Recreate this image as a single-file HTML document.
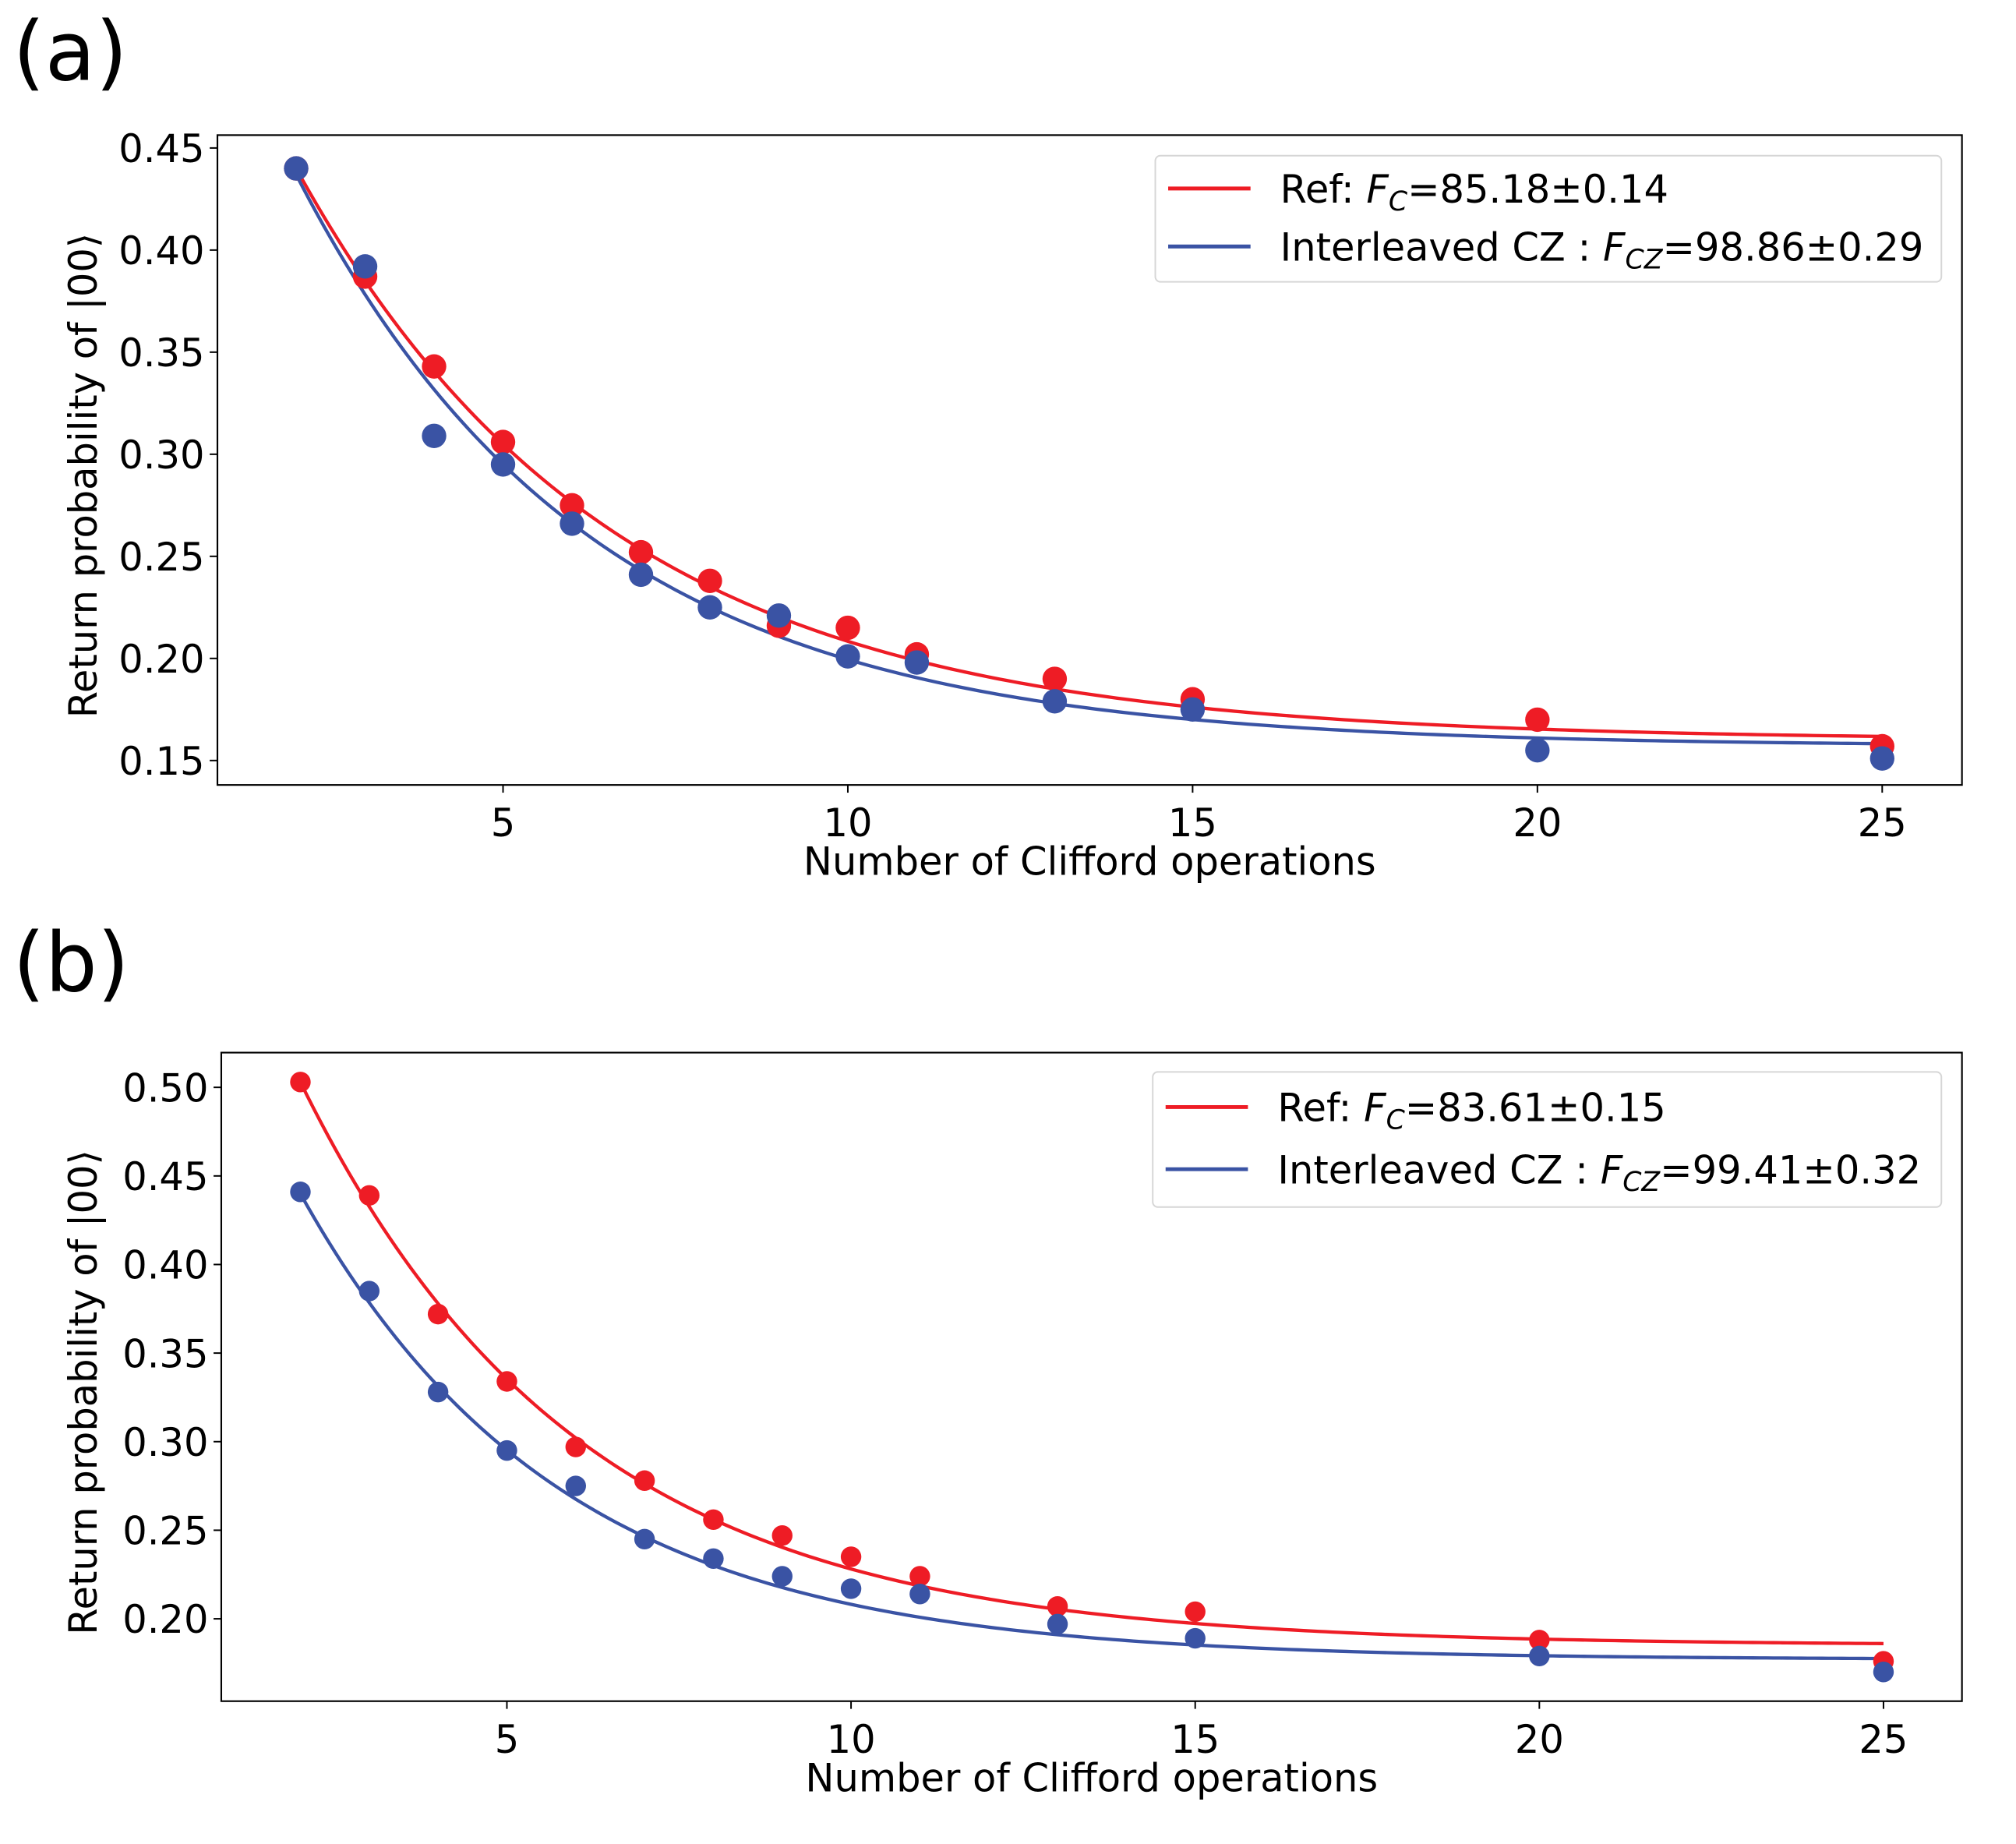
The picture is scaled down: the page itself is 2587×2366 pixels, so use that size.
<!DOCTYPE html>
<html><head><meta charset="utf-8"><style>
html,body{margin:0;padding:0;background:#fff}
svg{display:block;font-family:"DejaVu Sans","Liberation Sans",sans-serif}
</style></head><body>
<svg id="fig" width="2587" height="2366" viewBox="0 0 1567 1433" preserveAspectRatio="none">
<text x="10" y="62" font-size="64">(a)</text>
<text x="10" y="770" font-size="64">(b)</text>
<g id="pa"></g>
<g id="pb"></g>
</svg>
<script>
const xsA = [2,3,4,5,6,7,8,9,10,11,13,15,20,25];
const redA = [0.440,0.387,0.343,0.306,0.275,0.252,0.238,0.216,0.215,0.202,0.190,0.180,0.170,0.157];
const blueA = [0.440,0.392,0.309,0.295,0.266,0.241,0.225,0.221,0.201,0.198,0.179,0.175,0.155,0.151];
const fitRedA = [0.28,0.803,0.160];
const fitBlueA = [0.28,0.790,0.157];
const yTicksA = [0.15,0.20,0.25,0.30,0.35,0.40,0.45];
const xsB = [2,3,4,5,6,7,8,9,10,11,13,15,20,25];
const redB = [0.503,0.439,0.372,0.334,0.297,0.278,0.256,0.247,0.235,0.224,0.207,0.204,0.188,0.176];
const blueB = [0.441,0.385,0.328,0.295,0.275,0.245,0.234,0.224,0.217,0.214,0.197,0.189,0.179,0.170];
const fitRedB = [0.318,0.779,0.185];
const fitBlueB = [0.263,0.766,0.177];
const yTicksB = [0.20,0.25,0.30,0.35,0.40,0.45,0.50];
const xTicks = [5,10,15,20,25];
const legA = ["85.18±0.14","98.86±0.29"];
const legB = ["83.61±0.15","99.41±0.32"];

const NS="http://www.w3.org/2000/svg";
function mk(p,tag,at,txt){const e=document.createElementNS(NS,tag);for(const k in at)e.setAttribute(k,at[k]);if(txt!=null)e.textContent=txt;p.appendChild(e);return e;}
const RED="#ee1c25", BLUE="#3a53a4";

function panel(g,cfg){
  const {L,R,T,B,x0,px0,x1,px1,y0,py0,y1,py1,xs,red,blue,fr,fb,yt,leg,lg,rad}=cfg;
  const X=v=>px0+(v-x0)*(px1-px0)/(x1-x0);
  const Y=v=>py0+(v-y0)*(py1-py0)/(y1-y0);
  const fit=(f,m)=>f[0]*Math.pow(f[1],m-2)+f[2];
  [[fr,RED,'fit-curve-ref'],[fb,BLUE,'fit-curve-interleaved']].forEach(([f,c,n])=>{
    let d='';for(let m=xs[0];m<=xs[xs.length-1]+1e-9;m+=0.1){d+=(d?'L':'M')+X(m).toFixed(2)+','+Y(fit(f,m)).toFixed(2);}
    const p=mk(g,'path',{d:d,fill:'none',stroke:c,'stroke-width':2.6});
    
    
  });
  [[red,RED,'point-ref'],[blue,BLUE,'point-interleaved']].forEach(([arr,c,n])=>{
    arr.forEach((v,i)=>{
      const e=mk(g,'circle',{cx:X(xs[i]),cy:Y(v),r:rad,fill:c});
      
      
    });
  });
  const fr_=mk(g,'rect',{x:L,y:T,width:R-L,height:B-T,fill:'none',stroke:'#000','stroke-width':1.3});
  
  
  xTicks.forEach(t=>{
    mk(g,'line',{x1:X(t),x2:X(t),y1:B,y2:B+6,stroke:'#000','stroke-width':1.2});
    const e=mk(g,'text',{x:X(t),y:B+40,'font-size':30,'text-anchor':'middle'},String(t));
    
    
  });
  yt.forEach(t=>{
    mk(g,'line',{x1:L-6,x2:L,y1:Y(t),y2:Y(t),stroke:'#000','stroke-width':1.2});
    const e=mk(g,'text',{x:L-10,y:Y(t)+11,'font-size':30,'text-anchor':'end'},t.toFixed(2));
    
    
  });
  const xl=mk(g,'text',{x:(L+R)/2,y:B+70,'font-size':30,'text-anchor':'middle'},'Number of Clifford operations');
  
  
  const cy=(T+B)/2;
  const yl=mk(g,'text',{x:0,y:0,'font-size':30,'text-anchor':'middle',transform:`translate(75,${cy+12}) rotate(-90)`},'Return probability of |00⟩');
  
  
  const lgG=mk(g,'g',{});
  
  
  mk(lgG,'rect',{x:lg[0],y:lg[1],width:lg[2],height:lg[3],rx:4,fill:'#fff',stroke:'#d6d6d6','stroke-width':1.2});
  const r1=lg[1]+lg[3]*0.26, r2=lg[1]+lg[3]*0.72;
  mk(lgG,'line',{x1:lg[0]+10,x2:lg[0]+74,y1:r1,y2:r1,stroke:RED,'stroke-width':3});
  mk(lgG,'line',{x1:lg[0]+10,x2:lg[0]+74,y1:r2,y2:r2,stroke:BLUE,'stroke-width':3});
  const t1=mk(lgG,'text',{x:lg[0]+97,y:r1+11,'font-size':30});
  t1.innerHTML=`Ref: <tspan font-style="italic">F</tspan><tspan font-style="italic" font-size="21" dy="6">C</tspan><tspan dy="-6">=${leg[0]}</tspan>`;
  
  
  const t2=mk(lgG,'text',{x:lg[0]+97,y:r2+11,'font-size':30});
  t2.innerHTML=`Interleaved CZ : <tspan font-style="italic">F</tspan><tspan font-style="italic" font-size="21" dy="6">CZ</tspan><tspan dy="-6">=${leg[1]}</tspan>`;
  
  
}
panel(document.getElementById('pa'),{L:169,R:1525,T:105,B:610,x0:5,px0:391,x1:25,px1:1463,y0:0.45,py0:115,y1:0.15,py1:591,
  xs:xsA,red:redA,blue:blueA,fr:fitRedA,fb:fitBlueA,yt:yTicksA,leg:legA,lg:[898,121,611,98],rad:9.5});
panel(document.getElementById('pb'),{L:172,R:1525,T:818,B:1322,x0:5,px0:394,x1:25,px1:1464,y0:0.50,py0:845,y1:0.20,py1:1258,
  xs:xsB,red:redB,blue:blueB,fr:fitRedB,fb:fitBlueB,yt:yTicksB,leg:legB,lg:[896,833,613,105],rad:8});
</script>
</body></html>
